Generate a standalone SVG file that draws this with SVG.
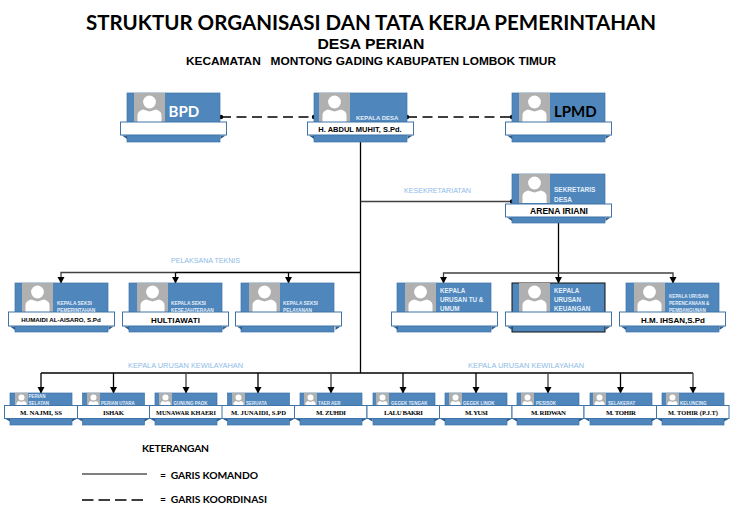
<svg xmlns="http://www.w3.org/2000/svg" xmlns:xlink="http://www.w3.org/1999/xlink" width="744" height="507" viewBox="0 0 744 507">
<style>
text{font-family:"Lato","Liberation Sans",sans-serif}
.bg{fill:#fff}
.card{fill:#4f86bb;stroke:#3f74a8;stroke-width:.7}
.band{fill:#fff;stroke:#3f74a8;stroke-width:1}
.photo{fill:#b0b0b0}
.av{fill:#fff}
.fold{fill:#2f5f8f}
.lbl{fill:#e3eefa;font-family:"Liberation Sans",sans-serif;font-weight:700}
.nm{fill:#000;font-family:"Liberation Sans",sans-serif;font-weight:700;text-anchor:middle}
.sf{fill:#000;font-family:"Liberation Serif",serif;font-weight:700;font-size:6.800px;text-anchor:middle}
.sec{fill:#8dbbe8;font-family:"Liberation Sans",sans-serif;font-size:7.500px}
.t{fill:#000;font-weight:700;text-anchor:middle}
.t2{fill:#000;font-family:"Liberation Sans",sans-serif;font-weight:700;text-anchor:middle}
.lg{fill:#000;font-weight:700;font-size:10.300px}
.ln{fill:none;stroke:#000;stroke-width:1.300}
.gr{fill:none;stroke:#404040;stroke-width:1.300}
.ds{fill:none;stroke:#000;stroke-width:1.400;stroke-dasharray:10 5.500}
</style>
<defs>
<marker id="arr" markerWidth="8" markerHeight="8" refX="6" refY="3.500" orient="auto" markerUnits="userSpaceOnUse"><path d="M0 0L6.500 3.500L0 7z" fill="#000"/></marker>
<marker id="dot" markerWidth="6" markerHeight="6" refX="3" refY="3" markerUnits="userSpaceOnUse"><circle cx="3" cy="3" r="2.200" fill="#000"/></marker>
<g id="avL"><rect class="photo" width="31" height="29"/><circle class="av" cx="15.500" cy="9" r="6.400"/><path class="av" d="M3.500 29V22Q3.500 18 9 16.500L15.500 18.500L22 16.500Q27.500 18 27.500 22V29z"/></g>
<g id="avS"><rect class="photo" width="13" height="13"/><circle class="av" cx="6.500" cy="4.500" r="3"/><path class="av" d="M1.500 13V10.500Q1.500 8.500 4 8L6.500 9L9 8Q11.500 8.500 11.500 10.500V13z"/></g>
<path id="fL" class="fold" d="M1.500 0H6.500V3.500zM105 0H100V3.500z"/>
<path id="fS" class="fold" d="M1 0H5.500V2.500zM72 0H67.500V2.500z"/>
</defs>
<rect class="bg" width="744" height="507"/>

<text class="t" x="371" y="30" font-size="21" textLength="570" lengthAdjust="spacingAndGlyphs">STRUKTUR ORGANISASI DAN TATA KERJA PEMERINTAHAN</text>
<text class="t2" x="371" y="49" font-size="14" textLength="107" lengthAdjust="spacingAndGlyphs">DESA PERIAN</text>
<text class="t2" x="371" y="65" font-size="11.500" textLength="370" lengthAdjust="spacingAndGlyphs" xml:space="preserve">KECAMATAN   MONTONG GADING KABUPATEN LOMBOK TIMUR</text>

<g id="connectors">
<path class="ln" d="M360.500 135V373"/>
<path class="gr" d="M360.500 201.500H512" marker-end="url(#dot)"/>
<path class="ds" d="M221 117H314" marker-start="url(#dot)" marker-end="url(#dot)"/>
<path class="ds" d="M407 117H512" marker-start="url(#dot)" marker-end="url(#dot)"/>
<path class="ln" d="M360 272.500H176"/>
<path class="gr" d="M176 272.500H61V283" marker-end="url(#arr)"/>
<path class="ln" d="M175.500 272.500V283" marker-end="url(#arr)"/>
<path class="ln" d="M288.500 272.500V283" marker-end="url(#arr)"/>
<path class="ln" d="M558.500 217V283" marker-end="url(#arr)"/>
<path class="gr" d="M558 273H443.500V283" marker-end="url(#arr)"/>
<path class="gr" d="M558 273H673V283" marker-end="url(#arr)"/>
<path class="ln" d="M41 373H693"/>
<path class="ln" d="M41 373V393" marker-end="url(#arr)"/>
<path class="ln" d="M113.500 373V393" marker-end="url(#arr)"/>
<path class="gr" d="M186 373V393" marker-end="url(#arr)"/>
<path class="ln" d="M258 373V393" marker-end="url(#arr)"/>
<path class="gr" d="M331 373V393" marker-end="url(#arr)"/>
<path class="ln" d="M403 373V393" marker-end="url(#arr)"/>
<path class="ln" d="M476 373V393" marker-end="url(#arr)"/>
<path class="gr" d="M548 373V393" marker-end="url(#arr)"/>
<path class="ln" d="M620.500 373V393" marker-end="url(#arr)"/>
<path class="gr" d="M693 373V393" marker-end="url(#arr)"/>
</g>

<text class="sec" x="404" y="193" textLength="67" lengthAdjust="spacingAndGlyphs">KESEKRETARIATAN</text>
<text class="sec" x="171" y="263" textLength="69" lengthAdjust="spacingAndGlyphs">PELAKSANA TEKNIS</text>
<text class="sec" x="128" y="368" textLength="115" lengthAdjust="spacingAndGlyphs">KEPALA URUSAN KEWILAYAHAN</text>
<text class="sec" x="468" y="368" textLength="116" lengthAdjust="spacingAndGlyphs">KEPALA URUSAN KEWILAYAHAN</text>

<g id="n-bpd"><rect class="card" x="127" y="93" width="93" height="49"/><use xlink:href="#avL" href="#avL" x="134" y="93"/><rect class="band" x="120.500" y="122" width="106" height="13"/><use xlink:href="#fL" href="#fL" x="120.500" y="135.500"/><text x="168.500" y="117" font-size="15" font-weight="700" fill="#fff">BPD</text></g>
<g id="n-kades"><rect class="card" x="314" y="93" width="93" height="49"/><use xlink:href="#avL" href="#avL" x="319" y="93"/><rect class="band" x="307.500" y="122" width="106" height="13"/><use xlink:href="#fL" href="#fL" x="307.500" y="135.500"/><text class="lbl" x="356" y="120" font-size="6">KEPALA DESA</text><text class="nm" x="360" y="131.500" font-size="7.500">H. ABDUL MUHIT, S.Pd.</text></g>
<g id="n-lpmd"><rect class="card" x="512" y="93" width="93" height="49"/><use xlink:href="#avL" href="#avL" x="519" y="93"/><rect class="band" x="505.500" y="122" width="106" height="13"/><use xlink:href="#fL" href="#fL" x="505.500" y="135.500"/><text x="554" y="117" font-size="15" font-weight="700" fill="#000">LPMD</text></g>
<g id="n-sekdes"><rect class="card" x="512" y="174" width="93" height="49"/><use xlink:href="#avL" href="#avL" x="519" y="174"/><rect class="band" x="505.500" y="204" width="106" height="13"/><use xlink:href="#fL" href="#fL" x="505.500" y="217.500"/><text class="lbl" x="554" y="192" font-size="6.500">SEKRETARIS</text><text class="lbl" x="554" y="202" font-size="6.500">DESA</text><text class="nm" x="559" y="213.500" font-size="8.500">ARENA IRIANI</text></g>

<g id="n-kasi1"><rect class="card" x="15" y="283" width="93" height="49"/><use xlink:href="#avL" href="#avL" x="22" y="283"/><rect class="band" x="8.500" y="312" width="106" height="14"/><use xlink:href="#fL" href="#fL" x="8.500" y="326.500"/><text class="lbl" x="57" y="305" font-size="4.800">KEPALA SEKSI</text><text class="lbl" x="57" y="312" font-size="4.800">PEMERINTAHAN</text><text class="nm" x="61" y="321.500" font-size="6.200">HUMAIDI AL-AISARO, S.Pd</text></g>
<g id="n-kasi2"><rect class="card" x="129" y="283" width="93" height="49"/><use xlink:href="#avL" href="#avL" x="137" y="283"/><rect class="band" x="122.500" y="312" width="106" height="14"/><use xlink:href="#fL" href="#fL" x="122.500" y="326.500"/><text class="lbl" x="171" y="305" font-size="4.800">KEPALA SEKSI</text><text class="lbl" x="171" y="312" font-size="4.800">KESEJAHTERAAN</text><text class="nm" x="175.500" y="322.500" font-size="8" textLength="49">HULTIAWATI</text></g>
<g id="n-kasi3"><rect class="card" x="241" y="283" width="93" height="49"/><use xlink:href="#avL" href="#avL" x="249" y="283"/><rect class="band" x="235.500" y="312" width="106" height="14"/><use xlink:href="#fL" href="#fL" x="235.500" y="326.500"/><text class="lbl" x="283" y="305" font-size="4.800">KEPALA SEKSI</text><text class="lbl" x="283" y="312" font-size="4.800">PELAYANAN</text></g>
<g id="n-kaur1"><rect class="card" x="397" y="283" width="94" height="49"/><use xlink:href="#avL" href="#avL" x="405" y="283"/><rect class="band" x="391.500" y="312" width="106" height="14"/><use xlink:href="#fL" href="#fL" x="391.500" y="326.500"/><text class="lbl" x="440" y="293" font-size="6.300">KEPALA</text><text class="lbl" x="440" y="301.500" font-size="6.300">URUSAN TU &amp;</text><text class="lbl" x="440" y="310.500" font-size="6.300">UMUM</text></g>
<g id="n-kaur2"><rect class="card" x="512" y="283" width="93" height="49" style="stroke:#111;stroke-width:1"/><use xlink:href="#avL" href="#avL" x="519" y="283"/><rect class="band" x="505.500" y="312" width="106" height="14"/><use xlink:href="#fL" href="#fL" x="505.500" y="326.500"/><text class="lbl" x="554" y="293" font-size="6.300">KEPALA</text><text class="lbl" x="554" y="301.500" font-size="6.300">URUSAN</text><text class="lbl" x="554" y="310.500" font-size="6.300">KEUANGAN</text></g>
<g id="n-kaur3"><rect class="card" x="626" y="283" width="93" height="49"/><use xlink:href="#avL" href="#avL" x="634" y="283"/><rect class="band" x="619.500" y="312" width="106" height="14"/><use xlink:href="#fL" href="#fL" x="619.500" y="326.500"/><text class="lbl" x="669" y="298" font-size="4.600">KEPALA URUSAN</text><text class="lbl" x="669" y="304.500" font-size="4.600">PERENCANAAN &amp;</text><text class="lbl" x="669" y="311.500" font-size="4.600">PEMBANGUNAN</text><text class="nm" x="673" y="322.500" font-size="8">H.M. IHSAN,S.Pd</text></g>

<g id="n-k1"><rect class="card" x="10" y="393" width="62" height="32"/><use xlink:href="#avS" href="#avS" x="15" y="393"/><rect class="band" x="4.500" y="405.500" width="73" height="13"/><use xlink:href="#fS" href="#fS" x="4.500" y="419"/><text class="lbl" x="28.500" y="398" font-size="4.500">PERIAN</text><text class="lbl" x="28.500" y="404.500" font-size="4.500">SELATAN</text><text class="sf" x="41" y="414.500" textLength="42">M. NAJMI, SS</text></g>
<g id="n-k2"><rect class="card" x="82.500" y="393" width="62" height="32"/><use xlink:href="#avS" href="#avS" x="87" y="393"/><rect class="band" x="77.500" y="405.500" width="72" height="13"/><use xlink:href="#fS" href="#fS" x="77" y="419"/><text class="lbl" x="101" y="404.500" font-size="4.500">PERIAN UTARA</text><text class="sf" x="113.500" y="414.500" textLength="21">ISHAK</text></g>
<g id="n-k3"><rect class="card" x="155" y="393" width="62" height="32"/><use xlink:href="#avS" href="#avS" x="159" y="393"/><rect class="band" x="149.500" y="405.500" width="73" height="13"/><use xlink:href="#fS" href="#fS" x="149.500" y="419"/><text class="lbl" x="173.500" y="404.500" font-size="4.500">GUNUNG PAOK</text><text class="sf" x="186" y="414.500" textLength="60" lengthAdjust="spacingAndGlyphs">MUNAWAR KHAERI</text></g>
<g id="n-k4"><rect class="card" x="227.500" y="393" width="62" height="32"/><use xlink:href="#avS" href="#avS" x="232" y="393"/><rect class="band" x="222" y="405.500" width="72.500" height="13"/><use xlink:href="#fS" href="#fS" x="222" y="419"/><text class="lbl" x="246" y="404.500" font-size="4.500">SERUATA</text><text class="sf" x="258.500" y="414.500" textLength="55" lengthAdjust="spacingAndGlyphs">M. JUNAIDI, S.PD</text></g>
<g id="n-k5"><rect class="card" x="300" y="393" width="62" height="32"/><use xlink:href="#avS" href="#avS" x="304" y="393"/><rect class="band" x="294.500" y="405.500" width="72.500" height="13"/><use xlink:href="#fS" href="#fS" x="294.500" y="419"/><text class="lbl" x="318" y="404.500" font-size="4.500">TAER AER</text><text class="sf" x="331" y="414.500" textLength="30">M. ZUHDI</text></g>
<g id="n-k6"><rect class="card" x="373" y="393" width="62" height="32"/><use xlink:href="#avS" href="#avS" x="376" y="393"/><rect class="band" x="367" y="405.500" width="72.500" height="13"/><use xlink:href="#fS" href="#fS" x="367" y="419"/><text class="lbl" x="391" y="404.500" font-size="4.500">GEGEK TENGAK</text><text class="sf" x="403.500" y="414.500" textLength="39">LALU BAKRI</text></g>
<g id="n-k7"><rect class="card" x="445" y="393" width="62" height="32"/><use xlink:href="#avS" href="#avS" x="449" y="393"/><rect class="band" x="439.500" y="405.500" width="72.500" height="13"/><use xlink:href="#fS" href="#fS" x="439.500" y="419"/><text class="lbl" x="463" y="404.500" font-size="4.500">GEGEK LINOK</text><text class="sf" x="476.500" y="414.500" textLength="23">M. YUSI</text></g>
<g id="n-k8"><rect class="card" x="517" y="393" width="62" height="32"/><use xlink:href="#avS" href="#avS" x="521" y="393"/><rect class="band" x="512" y="405.500" width="72" height="13"/><use xlink:href="#fS" href="#fS" x="511.500" y="419"/><text class="lbl" x="536" y="404.500" font-size="4.500">PESISOK</text><text class="sf" x="548.500" y="414.500" textLength="35">M. RIDWAN</text></g>
<g id="n-k9"><rect class="card" x="590" y="393" width="62" height="32"/><use xlink:href="#avS" href="#avS" x="593" y="393"/><rect class="band" x="584" y="405.500" width="72.500" height="13"/><use xlink:href="#fS" href="#fS" x="584" y="419"/><text class="lbl" x="608" y="404.500" font-size="4.500">SELAKERAT</text><text class="sf" x="621" y="414.500" textLength="30">M. TOHIR</text></g>
<g id="n-k10"><rect class="card" x="662" y="393" width="62" height="32"/><use xlink:href="#avS" href="#avS" x="666" y="393"/><rect class="band" x="656.500" y="405.500" width="72.500" height="13"/><use xlink:href="#fS" href="#fS" x="656.500" y="419"/><text class="lbl" x="680" y="404.500" font-size="4.500">KELUNCING</text><text class="sf" x="693" y="414.500" textLength="50" lengthAdjust="spacingAndGlyphs">M. TOHIR (P.J.T)</text></g>

<text class="lg" x="142" y="452" textLength="67">KETERANGAN</text>
<path d="M82 474H147" stroke="#000" stroke-width="1" fill="none"/>
<text class="lg" x="160" y="479" xml:space="preserve" textLength="98">=  GARIS KOMANDO</text>
<path d="M82 500H146" stroke="#000" stroke-width="1.500" stroke-dasharray="11.500 5" fill="none"/>
<text class="lg" x="160" y="503" xml:space="preserve" textLength="107">=  GARIS KOORDINASI</text>
</svg>
